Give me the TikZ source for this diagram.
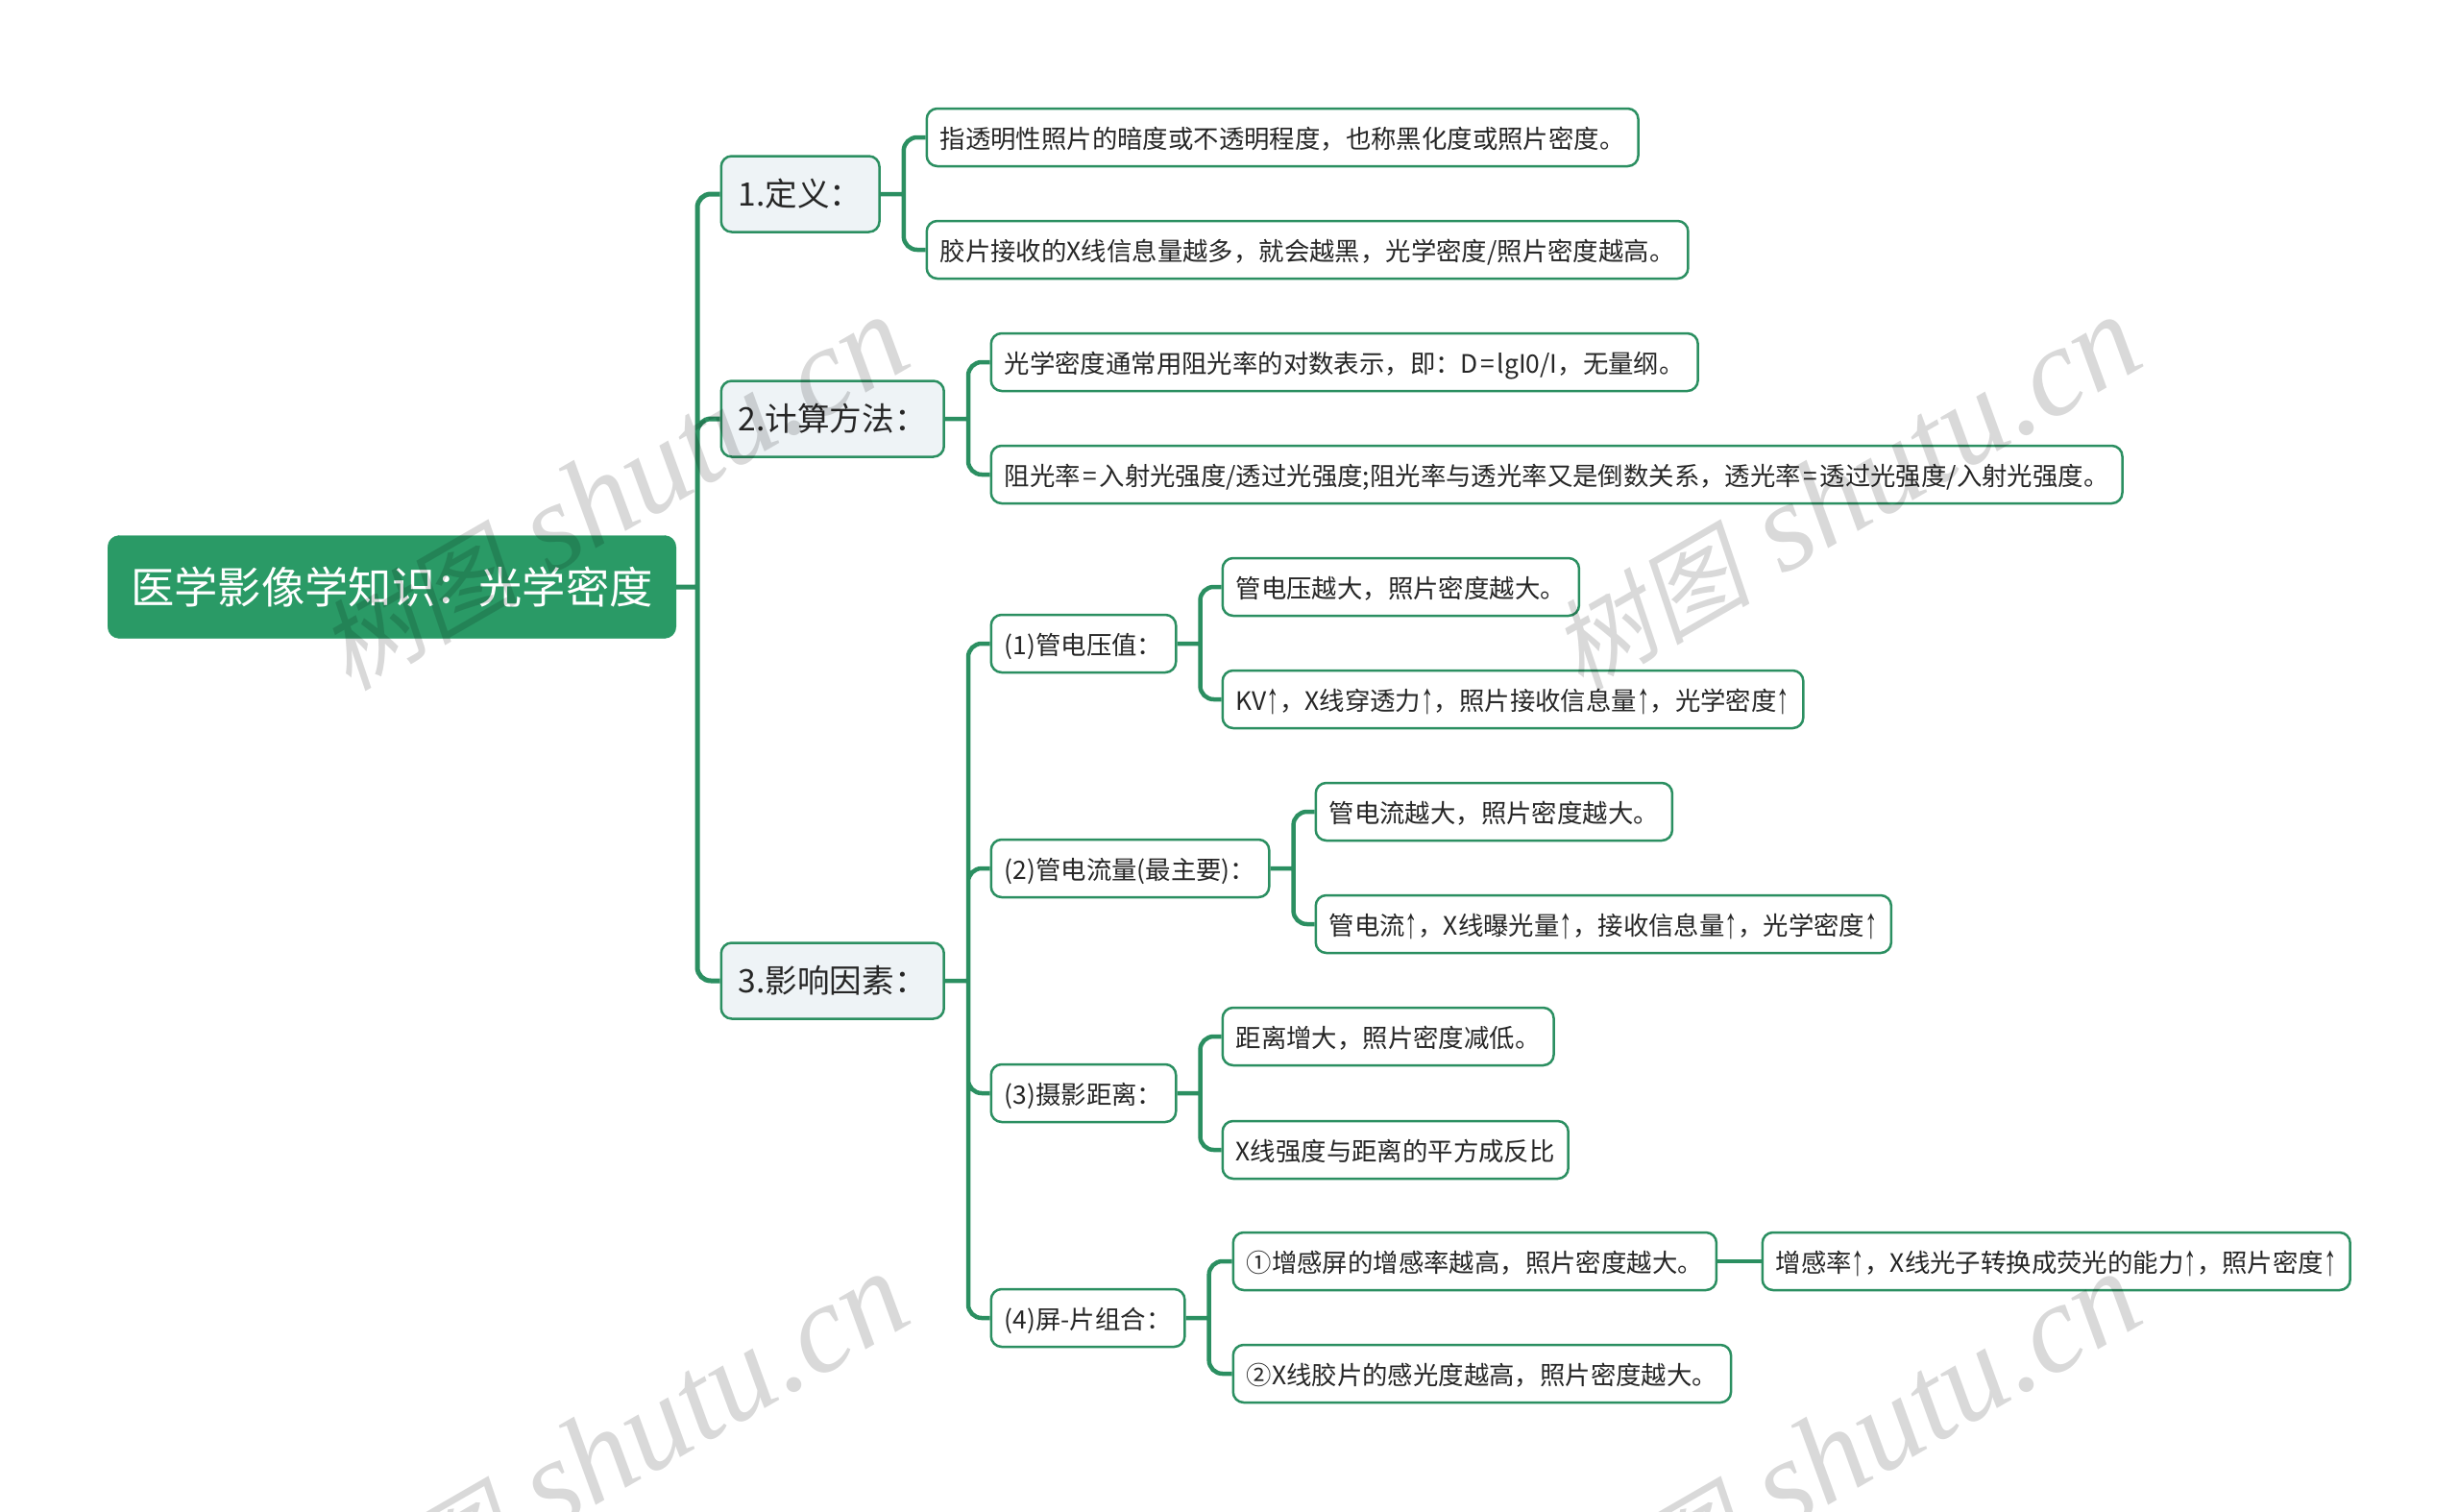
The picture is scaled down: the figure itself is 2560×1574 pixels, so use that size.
\documentclass[tikz,border=0pt]{standalone}
\usepackage{fontspec}
\setmainfont{Noto Sans CJK SC}
\newfontfamily\arrowfont{Liberation Sans}
\newfontfamily\markcjk[FakeSlant=0.2]{Noto Sans CJK SC}
\newfontfamily\marklat{Liberation Serif}[ItalicFont=* Italic]
\newcommand{\upmark}{\raisebox{-.1em}{\scalebox{1.03}[1.7]{\arrowfont ↑}}}
\newcommand{\eqmark}{\hspace{2.5pt}=\hspace{2.5pt}}
\newcommand{\shutumark}{{\fontsize{104}{130}\selectfont\markcjk 树图}\hspace{34pt}{\fontsize{131}{130}\selectfont\marklat\itshape shutu.cn}}
\definecolor{mapgreen}{HTML}{2A9A66}
\definecolor{mapline}{HTML}{2B8F61}
\definecolor{mapfill}{HTML}{EEF3F6}
\tikzset{
  rootbox/.style={draw=mapgreen, fill=mapgreen, text=white, rounded corners=12pt, anchor=west,
    inner xsep=24pt, minimum height=107pt, font=\fontsize{45.3}{54}\selectfont},
  mainbox/.style={draw=mapline, line width=2.5pt, fill=mapfill, text=black!85, rounded corners=11pt, anchor=west,
    inner xsep=18pt, minimum height=79pt, font=\fontsize{33.6}{40}\selectfont},
  subbox/.style={draw=mapline, line width=2.5pt, fill=white, text=black!85, rounded corners=11pt, anchor=west,
    inner xsep=14pt, inner ysep=0pt, minimum height=60pt, text height=27pt, text depth=3.6pt,
    font=\fontsize{26.4}{32}\selectfont},
  stem/.store in=\stemlen, stem=24,
  link/.style={draw=mapline, line width=#1, to path={(\tikztostart.east) -- ++(\stemlen,0)
    [rounded corners=14pt] (\tikztostart.east) ++(\stemlen,0) |- (\tikztotarget.west)}},
  link/.default=4.5pt,
  markbox/.style={text=black, opacity=.15, rotate=30}
}
\begin{document}
\begin{tikzpicture}[x=1pt, y=-1pt]
  \useasboundingbox (0,0) rectangle (2560,1574);
  \node[rootbox] (root) at (112,611) {医学影像学知识：光学密度};
  \node[mainbox] (def) at (749.5,202) {1.定义：};
  \node[mainbox] (calc) at (749.5,436) {2.计算方法：};
  \node[mainbox] (fact) at (749.5,1021) {3.影响因素：};
  \node[subbox] (defa) at (963.5,143) {指透明性照片的暗度或不透明程度，也称黑化度或照片密度。};
  \node[subbox] (defb) at (963.5,260) {胶片接收的X线信息量越多，就会越黑，光学密度/照片密度越高。};
  \node[subbox] (calca) at (1030.5,377) {光学密度通常用阻光率的对数表示，即：D\eqmark lgI0/I，无量纲。};
  \node[subbox] (calcb) at (1030.5,494) {阻光率\eqmark 入射光强度/透过光强度;阻光率与透光率又是倒数关系，透光率\eqmark 透过光强度/入射光强度。};
  \node[subbox] (kv) at (1030.5,670) {(1)管电压值：};
  \node[subbox] (ma) at (1030.5,904) {(2)管电流量(最主要)：};
  \node[subbox] (dist) at (1030.5,1138) {(3)摄影距离：};
  \node[subbox] (film) at (1030.5,1372) {(4)屏-片组合：};
  \node[subbox] (kva) at (1271.5,611) {管电压越大，照片密度越大。};
  \node[subbox] (kvb) at (1271.5,728) {KV\upmark，X线穿透力\upmark，照片接收信息量\upmark，光学密度\upmark};
  \node[subbox] (maa) at (1368.5,845) {管电流越大，照片密度越大。};
  \node[subbox] (mab) at (1368.5,962) {管电流\upmark，X线曝光量\upmark，接收信息量\upmark，光学密度\upmark};
  \node[subbox] (dista) at (1271.5,1079) {距离增大，照片密度减低。};
  \node[subbox] (distb) at (1271.5,1197) {X线强度与距离的平方成反比};
  \node[subbox] (filma) at (1282.5,1313) {①增感屏的增感率越高，照片密度越大。};
  \node[subbox] (filmb) at (1282.5,1430) {②X线胶片的感光度越高，照片密度越大。};
  \node[subbox] (filmc) at (1833.5,1313) {增感率\upmark，X线光子转换成荧光的能力\upmark，照片密度\upmark};
  \draw[link=5pt, stem=22] (root) to (def) (root) to (calc) (root) to (fact);
  \draw[link] (def) to (defa) (def) to (defb);
  \draw[link] (calc) to (calca) (calc) to (calcb);
  \draw[link] (fact) to (kv) (fact) to (ma) (fact) to (dist) (fact) to (film);
  \draw[link] (kv) to (kva) (kv) to (kvb);
  \draw[link] (ma) to (maa) (ma) to (mab);
  \draw[link] (dist) to (dista) (dist) to (distb);
  \draw[link] (film) to (filma) (film) to (filmb);
  \draw[mapline, line width=4.5pt] (filma) -- (filmc);
  \begin{scope}
    \clip (0,0) rectangle (2560,1574);
    \node[markbox] (marka) at (638,514) {\shutumark};
    \node[markbox] (markb) at (1921,514) {\shutumark};
    \node[markbox] (markc) at (638,1510) {\shutumark};
    \node[markbox] (markd) at (1921,1510) {\shutumark};
  \end{scope}
\end{tikzpicture}
\end{document}
